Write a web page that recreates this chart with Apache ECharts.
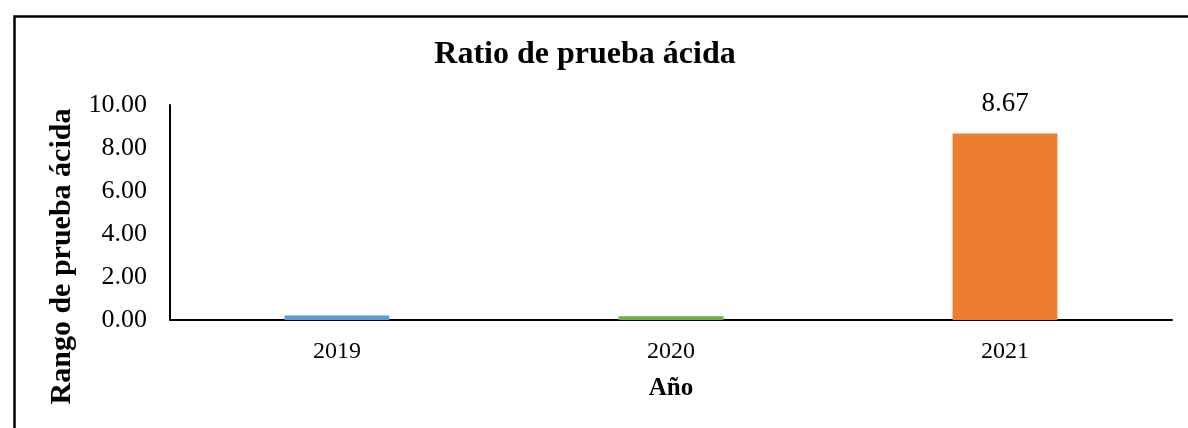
<!DOCTYPE html>
<html>
<head>
<meta charset="utf-8">
<script src="https://cdn.jsdelivr.net/npm/echarts@6/dist/echarts.min.js"></script>
<style>
html,body{margin:0;padding:0;background:#fff;}
#chart{width:1188px;height:428px;}
</style>
</head>
<body>
<div id="chart"></div>
<script>
const years = ['2019', '2020', '2021'];
const values = [0.21, 0.17, 8.67];
const barColors = ['#5B9BD5', '#70AD47', '#ED7D31'];
const titleText = 'Ratio de prueba ácida';
const yAxisTitle = 'Rango de prueba ácida';
const xAxisTitle = 'Año';
const yMin = 0, yMax = 10, yStep = 2;

const font = '"Liberation Serif", "Times New Roman", serif';
const chart = echarts.init(document.getElementById('chart'));
chart.setOption({
  animation: false,
  backgroundColor: '#fff',
  title: {
    text: titleText,
    left: 580, top: 34, textAlign: 'center',
    textStyle: {fontFamily: font, fontSize: 32, fontWeight: 'bold', color: '#000'}
  },
  graphic: [{
    type: 'rect', left: 12, top: 14, silent: true,
    shape: {width: 1300, height: 600},
    style: {fill: 'none', stroke: '#000', lineWidth: 2.5}
  }],
  grid: {left: 170, right: 16, top: 105, bottom: 108, containLabel: false},
  xAxis: {
    type: 'category', data: years,
    name: xAxisTitle, nameLocation: 'middle', nameGap: 56,
    nameTextStyle: {fontFamily: font, fontSize: 25, fontWeight: 'bold', color: '#000'},
    axisLine: {lineStyle: {color: '#000', width: 2}},
    axisTick: {show: false},
    axisLabel: {fontFamily: font, fontSize: 24, color: '#000', margin: 20}
  },
  yAxis: {
    type: 'value', min: yMin, max: yMax, interval: yStep,
    name: yAxisTitle, nameLocation: 'middle', nameGap: 88, nameRotate: 90,
    nameTextStyle: {fontFamily: font, fontSize: 30, fontWeight: 'bold', color: '#000',
      padding: [0, 88, 0, 0]},
    axisLine: {show: true, lineStyle: {color: '#000', width: 2}},
    axisTick: {show: false},
    splitLine: {show: false},
    axisLabel: {fontFamily: font, fontSize: 26, color: '#000', margin: 23,
      formatter: v => v.toFixed(2)}
  },
  series: [{
    type: 'bar',
    barWidth: '31.4%',
    data: values.map((v, i) => ({
      value: v,
      itemStyle: {color: barColors[i]},
      label: {show: i === 2}
    })),
    label: {
      position: 'top', distance: 16,
      fontFamily: font, fontSize: 27, color: '#000',
      formatter: p => p.value.toFixed(2)
    }
  }]
});
</script>
</body>
</html>
